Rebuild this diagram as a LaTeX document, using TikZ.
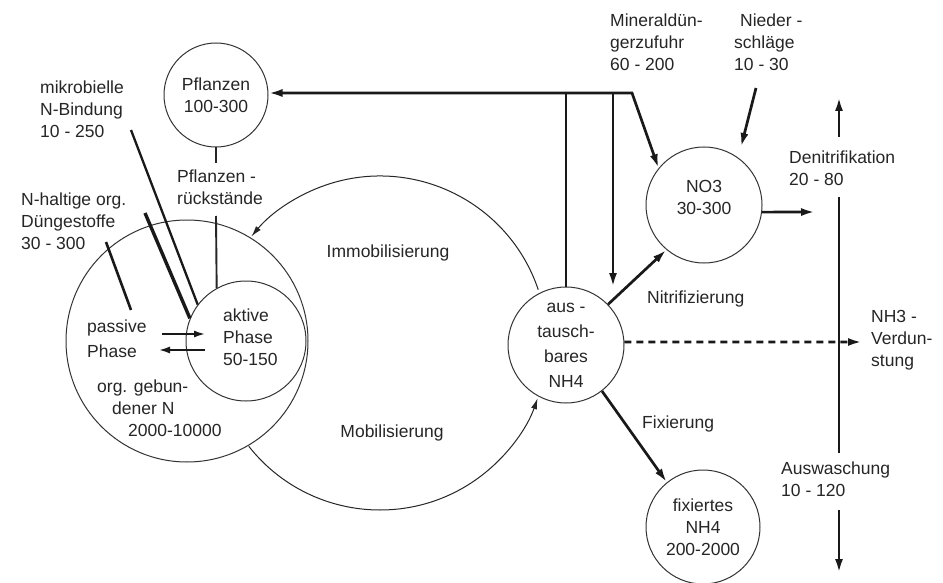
\documentclass[tikz,border=0pt]{standalone}
\usepackage{fontspec}
\setmainfont{Liberation Sans}
\usetikzlibrary{arrows.meta}
\begin{document}
\begin{tikzpicture}[x=1pt,y=-1pt,
  every node/.style={font=\fontsize{17.5}{22}\selectfont, text=black!85, inner sep=0pt},
  pool/.style={draw=black!80, line width=1pt, circle, inner sep=0pt},
  flow/.style={line width=2.7pt, draw=black!90, -{Latex[length=14pt,width=8pt]}},
  flowboth/.style={line width=2.7pt, draw=black!90, line join=miter, {Latex[length=14pt,width=8pt]}-{Latex[length=14pt,width=8pt]}},
  flowline/.style={line width=2.7pt, draw=black!90},
  cycarrow/.style={line width=1pt, draw=black!85, -{Latex[length=11pt,width=6pt]}},
  lbl/.style={align=left, anchor=west},
]
\fill[white, use as bounding box] (0,0) rectangle (943,583);

% pools
\node[pool, minimum size=104pt, align=center] (pfl) at (216,95) {Pflanzen\\100-300};
\node[pool, minimum size=242pt] (org) at (187,341) {};
\node[pool, minimum size=120pt] (akt) at (246,341) {};
\node[pool, minimum size=116pt, align=center, font=\fontsize{17.5}{25}\selectfont] (nh4) at (566,345) {aus -\\tausch-\\bares\\NH4};
\node[pool, minimum size=116pt] (no3) at (704,205) {};
\node[align=center] (no3t) at (704,197) {NO3\\30-300};
\node[pool, minimum size=114pt, align=center] (fix) at (703,527) {fixiertes\\NH4\\200-2000};

% texts
\node[lbl] (mik) at (40,109) {mikrobielle\\N-Bindung\\10 - 250};
\node[lbl] (dg) at (21,221) {N-haltige org.\\Düngestoffe\\30 - 300};
\node[lbl] (pr) at (177,187) {Pflanzen -\\rückstände};
\node[lbl, font=\fontsize{17.5}{25}\selectfont] (pas) at (87,339) {passive\\Phase};
\node[lbl] (aktt) at (223,337) {aktive\\Phase\\50-150};
\node[lbl] (orgt) at (97,408) {org. gebun-\\\hspace*{15pt}dener N\\\hspace*{31pt}2000-10000};
\node (imm) at (388,253) {Immobilisierung};
\node (mob) at (392,433) {Mobilisierung};
\node[lbl] (min) at (610,42) {Mineraldün-\\gerzufuhr\\60 - 200};
\node[lbl] (nied) at (734,42) {\hspace*{6pt}Nieder -\\schläge\\10 - 30};
\node[lbl] (den) at (789,168) {Denitrifikation\\20 - 80};
\node[lbl] (nit) at (647,299) {Nitrifizierung};
\node[lbl] (nh3) at (871,340) {NH3 -\\Verdun-\\stung};
\node[lbl] (fixt) at (642,424) {Fixierung};
\node[lbl] (aus) at (781,479) {Auswaschung\\10 - 120};

% coordinates
\coordinate (mc) at (632,93);
\coordinate (mtip) at (613,287);
\coordinate (nsS) at (756,88);
\coordinate (nsE) at (741,147);
\coordinate (denE) at (815,212);
\coordinate (v1) at (839,137);
\coordinate (v1t) at (839,97);
\coordinate (v2) at (839,197);
\coordinate (v3) at (839,453);
\coordinate (v4) at (839,510);
\coordinate (v5) at (839,573);
\coordinate (nh3E) at (862,342);
\coordinate (cyc) at (380,343);
\coordinate (pt) at (216,163);
\coordinate (prb) at (216,216);
\coordinate (pa1) at (162,334);
\coordinate (pa2) at (206,334);
\coordinate (pa3) at (205,350);
\coordinate (pa4) at (158,350);
\coordinate (mikS) at (131,130);
\coordinate (dgS) at (106,242);
\coordinate (dgE) at (131,310);
\coordinate (dg2S) at (145,213);

% mineral fertiliser / plant uptake
\draw[flowboth] (pfl.east |- mc) -- (mc) -- (no3.141);
\draw[flowline] (nh4.north |- mc) -- (nh4.north);
\draw[flow] (mtip |- mc) -- (mtip);
\draw[flow] (nsS) -- (nsE);
\draw[flow] (no3.-7) -- (denE);
\draw[flow] (v1) -- (v1t);
\draw[flowline] (v2) -- (v3);
\draw[flow] (v4) -- (v5);
\draw[flow, dash pattern=on 7pt off 5pt] (nh4.3) -- (nh3E);
\draw[flow] (nh4.44) -- (no3.230);
\draw[flow] (nh4.308) -- (fix.129);

% cycle
\draw[cycarrow] (cyc) ++(-18.6:167) arc[start angle=-18.6, end angle=-140.4, radius=167];
\draw[cycarrow] (cyc) ++(141.8:167) arc[start angle=141.8, end angle=19.3, radius=167];

% left side
\draw[line width=1.9pt, draw=black!85] (pfl.south) -- (pt);
\draw[line width=1.9pt, draw=black!85] (prb) -- (akt.119);
\draw[line width=2.8pt, draw=black!90, -{Latex[length=12pt,width=7pt]}] (pa1) -- (pa2);
\draw[line width=2.8pt, draw=black!90, -{Latex[length=12pt,width=7pt]}] (pa3) -- (pa4);
\draw[line width=2.3pt, draw=black!90] (mikS) -- (akt.143);
\draw[line width=2.6pt, draw=black!90] (dgS) -- (dgE);
\draw[line width=3.4pt, draw=black!90] (dg2S) -- (akt.158);
\end{tikzpicture}
\end{document}
